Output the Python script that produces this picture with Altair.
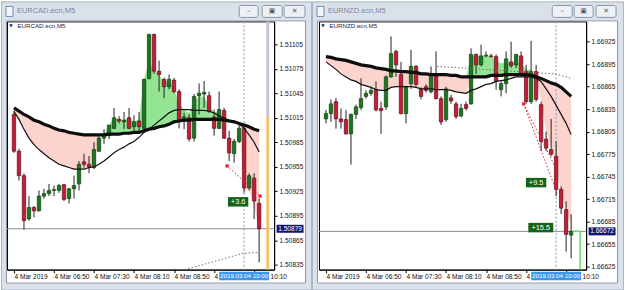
import altair as alt
import pandas as pd

# ---------------- data ----------------
TIMES = ["06:10", "06:15", "06:20", "06:25", "06:30", "06:35", "06:40", "06:45", "06:50", "06:55",
         "07:00", "07:05", "07:10", "07:15", "07:20", "07:25", "07:30", "07:35", "07:40", "07:45",
         "07:50", "07:55", "08:00", "08:05", "08:10", "08:15", "08:20", "08:25", "08:30", "08:35",
         "08:40", "08:45", "08:50", "08:55", "09:00", "09:05", "09:10", "09:15", "09:20", "09:25",
         "09:30", "09:35", "09:40", "09:45", "09:50", "09:55", "10:00", "10:05", "10:10", "10:15"]
X_TICKS = ["06:10", "06:50", "07:30", "08:10", "08:50", "09:30", "10:10"]
CURSOR_TIME = "10:00"
CURSOR_LABEL = "2019.03.04 10:00"
LAST_TICK_TEXT = "10:10"

# EURCAD
CAD_OPEN = [1.51019, 1.50974, 1.50944, 1.50891, 1.50905, 1.50901, 1.50919, 1.50922, 1.50926, 1.50926,
            1.50933, 1.50916, 1.50928, 1.50934, 1.50961, 1.50958, 1.50954, 1.50974, 1.50990, 1.50993,
            1.51002, 1.51013, 1.51010, 1.51015, 1.51004, 1.51011, 1.51002, 1.51063, 1.51117, 1.51072,
            1.51062, 1.51053, 1.51061, 1.51047, 1.51011, 1.51015, 1.50990, 1.51042, 1.51044, 1.51042,
            1.51016, 1.51002, 1.51024, 1.50990, 1.50971, 1.50986, 1.51002, 1.50929, 1.50941, 1.50910]
CAD_HIGH = [1.51023, 1.50977, 1.50947, 1.50919, 1.50907, 1.50926, 1.50928, 1.50934, 1.50932, 1.50934,
            1.50934, 1.50929, 1.50944, 1.50962, 1.50971, 1.50968, 1.50985, 1.50995, 1.51001, 1.51006,
            1.51027, 1.51017, 1.51022, 1.51027, 1.51018, 1.51022, 1.51063, 1.51118, 1.51118, 1.51085,
            1.51064, 1.51068, 1.51064, 1.51050, 1.51021, 1.51019, 1.51044, 1.51057, 1.51060, 1.51047,
            1.51025, 1.51047, 1.51027, 1.50999, 1.50989, 1.51007, 1.51007, 1.50947, 1.50947, 1.50916]
CAD_LOW = [1.50972, 1.50938, 1.50878, 1.50889, 1.50893, 1.50900, 1.50916, 1.50919, 1.50919, 1.50923,
           1.50913, 1.50910, 1.50916, 1.50926, 1.50954, 1.50947, 1.50952, 1.50973, 1.50983, 1.50989,
           1.51001, 1.51008, 1.51001, 1.51001, 1.50999, 1.50999, 1.51001, 1.51062, 1.51069, 1.51047,
           1.51039, 1.51050, 1.51045, 1.51002, 1.51001, 1.50986, 1.50986, 1.51019, 1.51027, 1.51021,
           1.50993, 1.51001, 1.50989, 1.50962, 1.50960, 1.50984, 1.50923, 1.50926, 1.50891, 1.50838]
CAD_CLOSE = [1.50974, 1.50944, 1.50889, 1.50905, 1.50901, 1.50919, 1.50922, 1.50926, 1.50927, 1.50932,
             1.50915, 1.50928, 1.50932, 1.50958, 1.50958, 1.50955, 1.50976, 1.50990, 1.50994, 1.51006,
             1.51015, 1.51011, 1.51012, 1.51002, 1.51010, 1.51004, 1.51062, 1.51117, 1.51072, 1.51068,
             1.51053, 1.51062, 1.51047, 1.51011, 1.51016, 1.50989, 1.51041, 1.51045, 1.51046, 1.51023,
             1.51002, 1.51025, 1.50990, 1.50972, 1.50986, 1.51002, 1.50929, 1.50944, 1.50913, 1.50879]
CAD_MA_SLOW = [1.51027, 1.51023, 1.51019, 1.51016, 1.51012, 1.51010, 1.51007, 1.51005, 1.51002, 1.51000,
               1.50999, 1.50997, 1.50996, 1.50995, 1.50994, 1.50994, 1.50994, 1.50994, 1.50994, 1.50995,
               1.50995, 1.50995, 1.50996, 1.50996, 1.50997, 1.50997, 1.50999, 1.51001, 1.51002, 1.51004,
               1.51005, 1.51007, 1.51010, 1.51011, 1.51012, 1.51012, 1.51013, 1.51013, 1.51013, 1.51013,
               1.51013, 1.51013, 1.51012, 1.51011, 1.51010, 1.51008, 1.51006, 1.51004, 1.51001, 1.50999]
CAD_MA_FAST = [1.51023, 1.51013, 1.51001, 1.50990, 1.50982, 1.50976, 1.50971, 1.50966, 1.50962, 1.50958,
               1.50956, 1.50954, 1.50952, 1.50952, 1.50952, 1.50954, 1.50955, 1.50958, 1.50962, 1.50967,
               1.50972, 1.50976, 1.50979, 1.50983, 1.50986, 1.50991, 1.50997, 1.51001, 1.51006, 1.51011,
               1.51016, 1.51021, 1.51024, 1.51025, 1.51025, 1.51025, 1.51024, 1.51024, 1.51024, 1.51023,
               1.51021, 1.51017, 1.51015, 1.51012, 1.51011, 1.51008, 1.51002, 1.50994, 1.50985, 1.50973]
CAD_FILL_EDGE = [1.51023, 1.51013, 1.51001, 1.50990, 1.50982, 1.50976, 1.50971, 1.50966, 1.50962, 1.50958,
                 1.50956, 1.50954, 1.50952, 1.50952, 1.50952, 1.50954, 1.50955, 1.50994, 1.50994, 1.51006,
                 1.51015, 1.51013, 1.51012, 1.51015, 1.51010, 1.51013, 1.51062, 1.51084, 1.51072, 1.51069,
                 1.51057, 1.51062, 1.51050, 1.51032, 1.51025, 1.51021, 1.51035, 1.51041, 1.51041, 1.51029,
                 1.51021, 1.51023, 1.51012, 1.51011, 1.51010, 1.51008, 1.50926, 1.50926, 1.50907, 1.50879]
CAD_Y_RANGE = [1.50829, 1.51133]
CAD_Y_TICKS = [1.50835, 1.50865, 1.50895, 1.50925, 1.50955, 1.50985, 1.51015, 1.51045, 1.51075, 1.51105]
CAD_LAST = 1.50879
CAD_GRAY_T = ["09:04", "09:59", "10:14:30"]
CAD_GRAY_P = [1.50830, 1.50849, 1.50850]
CAD_RED_T = ["09:43", "10:16"]
CAD_RED_P = [1.50956, 1.50919]
CAD_LABEL_T = ["09:54"]
CAD_LABEL_P = [1.50912]
CAD_LABEL_TXT = ["+3.6"]
CAD_STRIP_T = "10:23:36"
CAD_STRIP_SPLIT = 1.51017

# EURNZD
NZD_OPEN = [1.66822, 1.66829, 1.66845, 1.66822, 1.66821, 1.66802, 1.66828, 1.66837, 1.66852, 1.66856,
            1.66861, 1.66836, 1.66838, 1.66878, 1.66912, 1.66881, 1.66829, 1.66869, 1.66892, 1.66861,
            1.66865, 1.66858, 1.66881, 1.66849, 1.66821, 1.66850, 1.66842, 1.66826, 1.66841, 1.66842,
            1.66908, 1.66894, 1.66906, 1.66906, 1.66905, 1.66861, 1.66869, 1.66898, 1.66894, 1.66906,
            1.66885, 1.66845, 1.66885, 1.66841, 1.66795, 1.66781, 1.66772, 1.66728, 1.66701, 1.66667]
NZD_HIGH = [1.66834, 1.66848, 1.66850, 1.66836, 1.66834, 1.66829, 1.66841, 1.66876, 1.66860, 1.66864,
            1.66872, 1.66845, 1.66880, 1.66932, 1.66914, 1.66898, 1.66866, 1.66914, 1.66894, 1.66864,
            1.66868, 1.66892, 1.66912, 1.66852, 1.66865, 1.66854, 1.66845, 1.66842, 1.66845, 1.66916,
            1.66909, 1.66921, 1.66912, 1.66909, 1.66908, 1.66872, 1.66912, 1.66925, 1.66908, 1.66912,
            1.66894, 1.66926, 1.66894, 1.66845, 1.66805, 1.66822, 1.66792, 1.66732, 1.66712, 1.66695]
NZD_LOW = [1.66816, 1.66818, 1.66809, 1.66809, 1.66801, 1.66761, 1.66822, 1.66834, 1.66849, 1.66853,
           1.66832, 1.66802, 1.66834, 1.66877, 1.66878, 1.66828, 1.66816, 1.66862, 1.66865, 1.66848,
           1.66857, 1.66856, 1.66848, 1.66814, 1.66818, 1.66842, 1.66822, 1.66824, 1.66833, 1.66841,
           1.66882, 1.66892, 1.66904, 1.66904, 1.66861, 1.66852, 1.66856, 1.66890, 1.66890, 1.66882,
           1.66842, 1.66842, 1.66845, 1.66779, 1.66779, 1.66772, 1.66719, 1.66695, 1.66645, 1.66636]
NZD_CLOSE = [1.66829, 1.66842, 1.66822, 1.66818, 1.66802, 1.66828, 1.66838, 1.66849, 1.66856, 1.66860,
             1.66834, 1.66833, 1.66878, 1.66909, 1.66894, 1.66829, 1.66865, 1.66892, 1.66868, 1.66852,
             1.66860, 1.66882, 1.66849, 1.66818, 1.66862, 1.66846, 1.66825, 1.66836, 1.66836, 1.66908,
             1.66894, 1.66906, 1.66907, 1.66905, 1.66872, 1.66869, 1.66902, 1.66893, 1.66908, 1.66882,
             1.66845, 1.66885, 1.66848, 1.66792, 1.66783, 1.66775, 1.66728, 1.66703, 1.66668, 1.66672]
NZD_MA_SLOW = [1.66905, 1.66904, 1.66902, 1.66901, 1.66900, 1.66898, 1.66896, 1.66894, 1.66893, 1.66892,
               1.66890, 1.66889, 1.66888, 1.66886, 1.66886, 1.66885, 1.66885, 1.66884, 1.66884, 1.66882,
               1.66882, 1.66881, 1.66881, 1.66881, 1.66881, 1.66880, 1.66880, 1.66878, 1.66878, 1.66878,
               1.66878, 1.66878, 1.66878, 1.66880, 1.66880, 1.66880, 1.66881, 1.66881, 1.66881, 1.66881,
               1.66881, 1.66880, 1.66878, 1.66876, 1.66873, 1.66870, 1.66868, 1.66864, 1.66858, 1.66852]
NZD_MA_FAST = [1.66898, 1.66893, 1.66888, 1.66882, 1.66878, 1.66874, 1.66872, 1.66868, 1.66866, 1.66864,
               1.66861, 1.66860, 1.66860, 1.66864, 1.66865, 1.66865, 1.66865, 1.66865, 1.66864, 1.66862,
               1.66862, 1.66862, 1.66861, 1.66861, 1.66861, 1.66860, 1.66858, 1.66857, 1.66856, 1.66860,
               1.66862, 1.66865, 1.66868, 1.66869, 1.66872, 1.66873, 1.66874, 1.66876, 1.66878, 1.66878,
               1.66878, 1.66878, 1.66876, 1.66872, 1.66862, 1.66852, 1.66840, 1.66828, 1.66816, 1.66801]
NZD_FILL_EDGE = [1.66898, 1.66893, 1.66888, 1.66882, 1.66878, 1.66874, 1.66872, 1.66868, 1.66866, 1.66864,
                 1.66861, 1.66860, 1.66860, 1.66864, 1.66865, 1.66865, 1.66865, 1.66865, 1.66864, 1.66862,
                 1.66862, 1.66862, 1.66861, 1.66861, 1.66861, 1.66860, 1.66858, 1.66857, 1.66856, 1.66906,
                 1.66906, 1.66906, 1.66906, 1.66906, 1.66901, 1.66896, 1.66898, 1.66896, 1.66898, 1.66896,
                 1.66888, 1.66888, 1.66878, 1.66845, 1.66805, 1.66785, 1.66758, 1.66725, 1.66699, 1.66679]
NZD_Y_RANGE = [1.66621, 1.66952]
NZD_Y_TICKS = [1.66625, 1.66655, 1.66685, 1.66715, 1.66745, 1.66775, 1.66805, 1.66835, 1.66865,
               1.66895, 1.66925]
NZD_LAST = 1.66672
NZD_GRAY_T = ["08:01", "09:59", "10:15"]
NZD_GRAY_P = [1.66892, 1.66882, 1.66876]
NZD_RED_A_T = ["09:27:30", "10:01"]
NZD_RED_A_P = [1.66842, 1.66723]
NZD_RED_B_T = ["09:27:30", "09:59"]
NZD_RED_B_P = [1.66842, 1.66758]
NZD_LABEL_T = ["09:40", "09:44:40"]
NZD_LABEL_P = [1.66737, 1.66677]
NZD_LABEL_TXT = ["+9.5", "+15.5"]
NZD_GREEN_T = ["10:16:30", "10:24"]

# ---------------- layout / styling ----------------
W, H = 268, 249
OY = 20
XDOM = [368, 625]
FONT = "Liberation Sans"
SYM = "DejaVu Sans"
FRAME = "#dae1ea"
BULL, BULL_EDGE = "#1d751d", "#0e3f0e"
BEAR, BEAR_EDGE = "#c41d37", "#5e0c18"


def mins(s):
    p = [float(v) for v in s.split(":")]
    return p[0] * 60 + p[1] + (p[2] / 60 if len(p) > 2 else 0)


def rect_path(w, h):
    r = h / w
    return f"M-1,{-r:.4f}L1,{-r:.4f}L1,{r:.4f}L-1,{r:.4f}Z"


# the cursor box under the axis hides most of the 09:30 label and the
# "4 Mar " part of the 10:10 label, exactly as in the terminal
XAXIS = alt.Axis(
    values=[mins(s) for s in X_TICKS],
    labelExpr=("datum.value == 370 ? '4 Mar 2019' : datum.value == 570 ? '4' : "
               "datum.value == 610 ? '' : "
               "'4 Mar ' + timeFormat(datetime(2019, 2, 4, 0, datum.value), '%H:%M')"),
    title=None, grid=False, labelAlign="left", labelFlush=False, labelOverlap=False,
    tickSize=3, labelPadding=1, labelFontSize=6.6, labelFont=FONT, labelColor="#111",
    tickColor="#000", domainColor="#000", minExtent=12, maxExtent=12)
XSCALE = alt.Scale(domain=XDOM, nice=False, zero=False)


def panel(symbol, o, hi, lo, cl, slow, fast, edge, ydom, yticks, last,
          gray_t, gray_p, red_lines, marker_pts, labels, ox, win, extras):
    ys = alt.Scale(domain=ydom, nice=False, zero=False)
    ya = alt.Axis(orient="right", values=yticks, format=".5f", title=None, grid=False,
                  tickSize=3, labelPadding=2, labelFontSize=6.6, labelFont=FONT,
                  labelColor="#111", tickColor="#000", domainColor="#000",
                  minExtent=31, maxExtent=31, labelAlign="left", labelFlush=False)

    def X(f="t"):
        return alt.X(f"{f}:Q", scale=XSCALE, axis=XAXIS)

    def Y(f):
        return alt.Y(f"{f}:Q", scale=ys, axis=ya)

    def crect(x0, x1, y0, y1, **kw):
        return alt.Chart(alt.Data(values=[{}])).mark_rect(**kw).encode(
            x=alt.value(x0 - ox), x2=alt.value(x1 - ox),
            y=alt.value(y0 - OY), y2=alt.value(y1 - OY))

    def ctext(x, y, txt, **kw):
        return alt.Chart(alt.Data(values=[{}])).mark_text(text=txt, **kw).encode(
            x=alt.value(x - ox), y=alt.value(y - OY))

    df = pd.DataFrame(dict(t=[mins(s) for s in TIMES], o=o, h=hi, l=lo, c=cl,
                           slow=slow, fast=fast, edge=edge))
    df["up"] = df[["edge", "slow"]].max(axis=1)
    df["dn"] = df[["edge", "slow"]].min(axis=1)
    df["dir"] = ["up" if c >= op else "down" for op, c in zip(o, cl)]

    wx0, wx1 = win
    layers = []
    # window chrome
    layers += [
        crect(wx0, wx1, 0, 19, color=FRAME),
        crect(wx0, wx0 + 5, 0, 290, color=FRAME),
        crect(wx1 - 6, wx1, 0, 290, color=FRAME),
        crect(wx0, wx1, 283, 290, color=FRAME),
        crect(wx0 + 0.5, wx1 - 0.5, 0.5, 289.5, fillOpacity=0, stroke="#aab6c5", strokeWidth=1),
        crect(wx0 + 5.5, wx1 - 6.5, 19.5, 282.5, fillOpacity=0, stroke="#8d98a7", strokeWidth=1),
        crect(wx0 + 5, wx0 + 12, 5, 15, color="#f3f6fa", stroke="#6d8db4", strokeWidth=1),
        ctext(wx0 + 16, 10, f"{symbol}.ecn,M5", align="left", baseline="middle",
              fontSize=7.5, font=FONT, color="#7f8898"),
    ]
    for (bx0, bx1), glyph in zip(extras["buttons"], ["\u2013", "\u25a3", "\u2715"]):
        layers.append(crect(bx0, bx1, 4, 16, color="#edf1f6", stroke="#8793a3",
                            strokeWidth=1, cornerRadius=2))
        layers.append(ctext((bx0 + bx1) / 2, 10, glyph, align="center", baseline="middle",
                            fontSize=7, font=SYM, color="#4f5a69"))

    # MA fill
    layers.append(alt.Chart(df).mark_area(color="#93e493").encode(x=X(), y=Y("slow"), y2="up"))
    layers.append(alt.Chart(df).mark_area(color="#fcd3cd").encode(x=X(), y=Y("slow"), y2="dn"))

    # current price line and cursor line
    layers.append(alt.Chart(pd.DataFrame({"p": [last]})).mark_rule(
        color="#8c8c8c", strokeWidth=1).encode(y=Y("p")))
    layers.append(alt.Chart(pd.DataFrame({"t": [mins(CURSOR_TIME)]})).mark_rule(
        color="#7f9bbf", strokeWidth=1, strokeDash=[2, 2]).encode(x=X()))

    # candles
    layers.append(alt.Chart(df).mark_rule(color="#222222", strokeWidth=1).encode(
        x=X(), y=Y("l"), y2="h"))
    layers.append(alt.Chart(df).mark_bar(width=3.4, strokeWidth=0.7).encode(
        x=X(), y=Y("o"), y2="c",
        fill=alt.Fill("dir:N", scale=alt.Scale(domain=["up", "down"], range=[BULL, BEAR]), legend=None),
        stroke=alt.Stroke("dir:N", scale=alt.Scale(domain=["up", "down"], range=[BULL_EDGE, BEAR_EDGE]), legend=None)))

    # moving averages
    layers.append(alt.Chart(df).mark_line(color="#0d0d0d", strokeWidth=3.2).encode(x=X(), y=Y("slow")))
    layers.append(alt.Chart(df).mark_line(color="#111111", strokeWidth=1.2).encode(x=X(), y=Y("fast")))

    # trade lines
    gdf = pd.DataFrame({"t": [mins(s) for s in gray_t], "p": gray_p})
    layers.append(alt.Chart(gdf).mark_line(color="#6f6f6f", strokeWidth=1, strokeDash=[1.5, 2]).encode(
        x=X(), y=Y("p")))
    rows = []
    for i, (ts, ps) in enumerate(red_lines):
        for tt, pp in zip(ts, ps):
            rows.append({"id": i, "t": mins(tt), "p": pp})
    layers.append(alt.Chart(pd.DataFrame(rows)).mark_line(
        color="#d9262b", strokeWidth=1, strokeDash=[1.5, 2]).encode(x=X(), y=Y("p"), detail="id:N"))
    mdf = pd.DataFrame({"t": [mins(s) for s, _ in marker_pts], "p": [p for _, p in marker_pts]})
    layers.append(alt.Chart(mdf).mark_point(shape="cross", filled=True, color="#e0202a",
                                            size=16, angle=45, opacity=1).encode(x=X(), y=Y("p")))

    # profit labels
    for tt, pp, txt in labels:
        w = 4.6 * len(txt) + 2
        ldf = pd.DataFrame({"t": [mins(tt)], "p": [pp], "txt": [txt]})
        layers.append(alt.Chart(ldf).mark_point(shape=rect_path(w, 9.5), size=w * w, filled=True,
                                                color="#156317", opacity=1, strokeWidth=0).encode(
            x=X(), y=Y("p")))
        layers.append(alt.Chart(ldf).mark_text(color="white", fontSize=7.4, font=FONT,
                                               align="center", baseline="middle").encode(
            x=X(), y=Y("p"), text="txt:N"))

    # right-edge strips
    for kind in extras["strips"]:
        sdf = pd.DataFrame([kind[1]])
        layers.append(alt.Chart(sdf).mark_rule(color=kind[0], strokeWidth=kind[2]).encode(
            x=X("t0"), x2="t1", y=Y("p0"), y2="p1"))

    # cursor time box under the axis
    cdf = pd.DataFrame({"t": [mins(CURSOR_TIME)], "txt": [CURSOR_LABEL]})
    layers.append(alt.Chart(cdf).mark_point(shape=rect_path(50, 8.5), size=2500, filled=True,
                                            color="#3b96ec", opacity=1, strokeWidth=0).encode(
        x=X(), y=alt.value(H + 6.5)))
    layers.append(alt.Chart(cdf).mark_text(color="white", fontSize=6.2, font=FONT,
                                           align="center", baseline="middle").encode(
        x=X(), y=alt.value(H + 6.7), text="txt:N"))
    # visible remainder of the last time label, right of the cursor box
    tdf = pd.DataFrame({"t": [mins(X_TICKS[-1])], "txt": [LAST_TICK_TEXT]})
    layers.append(alt.Chart(tdf).mark_text(color="#111", fontSize=6.6, font=FONT, align="left",
                                           baseline="top", dx=16.5).encode(
        x=X(), y=alt.value(H + 4), text="txt:N"))
    # current price box on the price axis
    pdf = pd.DataFrame({"p": [last], "txt": [f"{last:.5f}"]})
    layers.append(alt.Chart(pdf).mark_point(shape=rect_path(27, 8), size=27 * 27, filled=True,
                                            color="#0f1470", opacity=1, strokeWidth=0).encode(
        x=alt.value(W + 16), y=Y("p")))
    layers.append(alt.Chart(pdf).mark_text(color="white", fontSize=6.6, font=FONT,
                                           align="center", baseline="middle").encode(
        x=alt.value(W + 16), y=Y("p"), text="txt:N"))

    # symbol caption in the plot
    layers.append(ctext(ox + 4, 25, "\u25bc", align="center", baseline="middle", fontSize=4.5,
                        font=SYM, color="#1a1f4d"))
    layers.append(ctext(ox + 10.5, 25, f"{symbol}.ecn,M5", align="left", baseline="middle",
                        fontSize=6.2, font=FONT, color="#1a1f4d"))

    return alt.layer(*layers).properties(width=W, height=H)


cad_strips = [
    ("#cdbfe0", {"t0": mins(CAD_STRIP_T), "t1": mins(CAD_STRIP_T), "p0": CAD_STRIP_SPLIT, "p1": CAD_Y_RANGE[1]}, 3),
    ("#f3c36c", {"t0": mins(CAD_STRIP_T), "t1": mins(CAD_STRIP_T), "p0": CAD_Y_RANGE[0], "p1": CAD_STRIP_SPLIT}, 3),
]
nzd_strips = [
    ("#66d966", {"t0": mins(NZD_GREEN_T[0]), "t1": mins(NZD_GREEN_T[1]), "p0": NZD_LAST, "p1": NZD_LAST}, 1.5),
    ("#66d966", {"t0": mins(NZD_GREEN_T[1]), "t1": mins(NZD_GREEN_T[1]), "p0": NZD_Y_RANGE[0], "p1": NZD_LAST}, 1.5),
]

p1 = panel("EURCAD", CAD_OPEN, CAD_HIGH, CAD_LOW, CAD_CLOSE, CAD_MA_SLOW, CAD_MA_FAST, CAD_FILL_EDGE,
           CAD_Y_RANGE, CAD_Y_TICKS, CAD_LAST, CAD_GRAY_T, CAD_GRAY_P,
           [(CAD_RED_T, CAD_RED_P)],
           list(zip(CAD_RED_T, CAD_RED_P)),
           list(zip(CAD_LABEL_T, CAD_LABEL_P, CAD_LABEL_TXT)),
           ox=6, win=(0, 312),
           extras={"buttons": [(239, 258), (262, 282), (284, 305)], "strips": cad_strips})
p2 = panel("EURNZD", NZD_OPEN, NZD_HIGH, NZD_LOW, NZD_CLOSE, NZD_MA_SLOW, NZD_MA_FAST, NZD_FILL_EDGE,
           NZD_Y_RANGE, NZD_Y_TICKS, NZD_LAST, NZD_GRAY_T, NZD_GRAY_P,
           [(NZD_RED_A_T, NZD_RED_A_P), (NZD_RED_B_T, NZD_RED_B_P)],
           [(NZD_RED_A_T[0], NZD_RED_A_P[0])],
           list(zip(NZD_LABEL_T, NZD_LABEL_P, NZD_LABEL_TXT)),
           ox=319, win=(312, 625),
           extras={"buttons": [(553, 573), (575, 594), (597, 617)], "strips": nzd_strips})

chart = alt.hconcat(p1, p2, spacing=45, bounds="flush").properties(
    padding=0, background="white"
).configure_view(stroke="#000000", strokeWidth=1, fill="white")

chart.save("out.html", embed_options={"renderer": "svg", "actions": False})
